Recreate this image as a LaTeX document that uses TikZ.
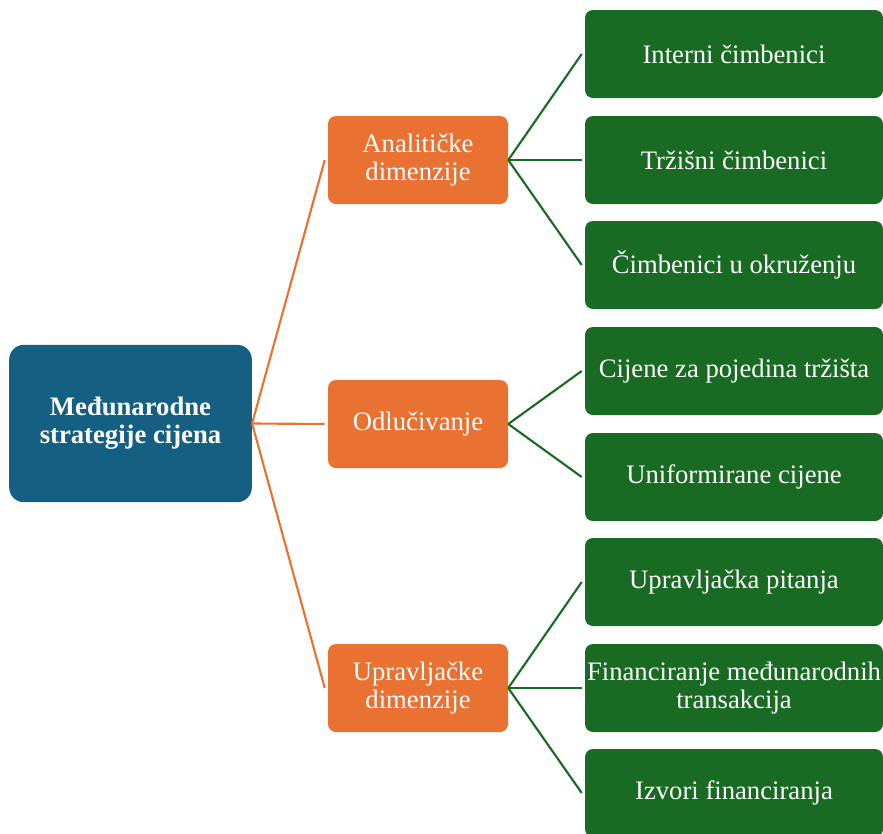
\documentclass[tikz,border=0pt]{standalone}
\usepackage{fontspec}
\setmainfont{Liberation Serif}
\usepackage{xcolor}
\usepackage{tikz}
\definecolor{rootblue}{HTML}{156082}
\definecolor{midorange}{HTML}{E97132}
\definecolor{leafgreen}{HTML}{196B24}

\begin{document}
\begin{tikzpicture}[x=0.75pt, y=-0.75pt,
        every node/.style={rectangle, rounded corners=6pt, text=white,
        align=center, inner sep=1pt, font=\fontsize{20}{21}\selectfont},
        mid/.style={fill=midorange, minimum width=135pt, minimum height=66pt},
        leaf/.style={fill=leafgreen, minimum width=223.5pt, minimum height=66pt},
        orangeline/.style={draw=midorange, line width=1.6pt},
        greenline/.style={draw=leafgreen, line width=1.6pt}]
        \useasboundingbox (0,0) rectangle (883,833);

        \node[fill=rootblue, rounded corners=11pt, minimum width=182pt,
            minimum height=118pt, font=\fontsize{20}{21}\selectfont\bfseries]
            (root) at (130.5,423.5) {Međunarodne\\strategije cijena};

        \node[mid] (ana) at (418,160) {Analitičke\\dimenzije};
        \node[mid] (odl) at (418,424) {Odlučivanje};
        \node[mid] (upr) at (418,688) {Upravljačke\\dimenzije};

        \node[leaf] (l1) at (734,54) {Interni čimbenici};
        \node[leaf] (l2) at (734,160) {Tržišni čimbenici};
        \node[leaf] (l3) at (734,265) {Čimbenici u okruženju};
        \node[leaf] (l4) at (734,371) {Cijene za pojedina tržišta};
        \node[leaf] (l5) at (734,477) {Uniformirane cijene};
        \node[leaf] (l6) at (734,582) {Upravljačka pitanja};
        \node[leaf] (l7) at (734,688) {Financiranje međunarodnih\\transakcija};
        \node[leaf] (l8) at (734,793) {Izvori financiranja};

        \draw[orangeline] (root.east) -- ([xshift=-2.25pt]ana.west);
        \draw[orangeline] (root.east) -- ([xshift=-2.25pt]odl.west);
        \draw[orangeline] (root.east) -- ([xshift=-2.25pt]upr.west);

        \draw[greenline] (ana.east) -- ([xshift=-2.25pt]l1.west);
        \draw[greenline] (ana.east) -- ([xshift=-2.25pt]l2.west);
        \draw[greenline] (ana.east) -- ([xshift=-2.25pt]l3.west);
        \draw[greenline] (odl.east) -- ([xshift=-2.25pt]l4.west);
        \draw[greenline] (odl.east) -- ([xshift=-2.25pt]l5.west);
        \draw[greenline] (upr.east) -- ([xshift=-2.25pt]l6.west);
        \draw[greenline] (upr.east) -- ([xshift=-2.25pt]l7.west);
        \draw[greenline] (upr.east) -- ([xshift=-2.25pt]l8.west);
    \end{tikzpicture}
\end{document}
